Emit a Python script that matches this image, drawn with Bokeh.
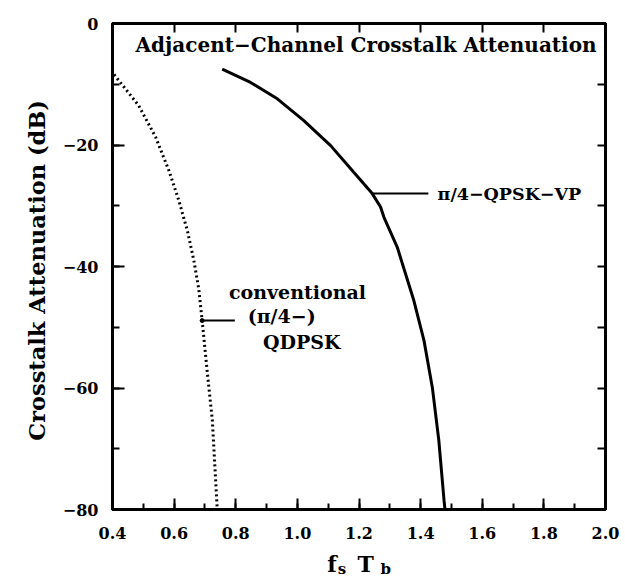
import math
from bokeh.plotting import figure
from bokeh.layouts import column
from bokeh.models import (Range1d, LinearAxis, SingleIntervalTicker, NumeralTickFormatter,
                          CustomJSTickFormatter, Label)
from bokeh.embed import file_html
from bokeh.resources import INLINE

# ---- data ----
conv_fs = [0.405, 0.485, 0.540, 0.583, 0.615, 0.643, 0.664, 0.680, 0.691, 0.707, 0.724, 0.738, 0.740]
conv_db = [-8.4, -13.5, -18.7, -24.2, -29.1, -34.1, -39.0, -43.7, -48.9, -57.1, -65.3, -78.2, -80.0]

vp_fs = [0.756, 0.848, 0.935, 1.021, 1.108, 1.183, 1.243, 1.270, 1.281, 1.324, 1.378, 1.411, 1.438, 1.459, 1.476, 1.479]
vp_db = [-7.5, -9.7, -12.4, -16.0, -20.1, -24.5, -28.0, -30.2, -31.9, -36.8, -45.6, -52.2, -59.9, -68.6, -78.5, -80.0]

title_text = "Adjacent\u2212Channel Crosstalk Attenuation"
vp_label = "\u03c0/4\u2212QPSK\u2212VP"
conv_label = ["conventional", "(\u03c0/4\u2212)", "QDPSK"]
y_label = "Crosstalk Attenuation  (dB)"
x_label_parts = ["f", "s", "T", "b"]

FONT = "DejaVu Serif"

p = figure(width=625, height=550, output_backend="svg", toolbar_location=None,
           x_range=Range1d(0.4, 2.0), y_range=Range1d(-80, 0),
           min_border_left=112, min_border_right=20, min_border_top=23, min_border_bottom=41,
           x_axis_location=None, y_axis_location=None)
p.grid.visible = False
p.outline_line_color = "black"
p.outline_line_width = 3
p.background_fill_color = "white"
p.border_fill_color = "white"

def style_axis(ax):
    ax.axis_line_width = 3
    ax.axis_line_color = "black"
    ax.major_tick_out = 0
    ax.minor_tick_out = 0
    ax.major_tick_line_width = 2
    ax.minor_tick_line_width = 2
    ax.major_label_text_font = FONT
    ax.major_label_text_font_style = "bold"
    ax.major_label_text_color = "black"
    ax.major_label_text_font_size = "16px"

bottom = LinearAxis(ticker=SingleIntervalTicker(interval=0.2, num_minor_ticks=2),
                    formatter=NumeralTickFormatter(format="0.0"))
style_axis(bottom)
bottom.major_tick_in = 11
bottom.minor_tick_in = 6
bottom.major_label_standoff = 17
p.add_layout(bottom, "below")

left = LinearAxis(ticker=SingleIntervalTicker(interval=20, num_minor_ticks=2))
style_axis(left)
left.major_tick_in = 12
left.minor_tick_in = 7
left.major_label_standoff = 14
left.axis_label = y_label
left.axis_label_text_font = FONT
left.axis_label_text_font_style = "bold"
left.axis_label_text_font_size = "22.5px"
left.axis_label_text_color = "black"
left.axis_label_standoff = 10
p.add_layout(left, "left")

blank = CustomJSTickFormatter(code="return ''")
top = LinearAxis(ticker=SingleIntervalTicker(interval=0.2, num_minor_ticks=0), formatter=blank)
style_axis(top)
top.major_tick_in = 9
top.major_label_standoff = 0
p.add_layout(top, "above")

right = LinearAxis(ticker=SingleIntervalTicker(interval=10, num_minor_ticks=0), formatter=blank)
style_axis(right)
right.major_tick_in = 8
right.major_label_standoff = 0
p.add_layout(right, "right")

# curves
p.line(conv_fs, conv_db, line_color="black", line_width=3, line_dash="2 3")
p.line(vp_fs, vp_db, line_color="black", line_width=3)

# leader lines anchored on data points
vi = 6
p.line([vp_fs[vi], 1.425], [vp_db[vi], vp_db[vi]], line_color="black", line_width=2)
ci = 8
p.line([conv_fs[ci], 0.797], [conv_db[ci], conv_db[ci]], line_color="black", line_width=2)
p.scatter([conv_fs[ci]], [conv_db[ci]], size=4, color="black")

def lab(fig, x, y, text, size, align="left", baseline="middle"):
    fig.add_layout(Label(x=x, y=y, text=text, text_font=FONT, text_font_style="bold",
                         text_font_size=size, text_align=align, text_baseline=baseline,
                         text_color="black"))

lab(p, 1.223, -3.6, title_text, "20px", align="center")
lab(p, 1.455, vp_db[vi], vp_label, "17.5px")
lab(p, 1.0005, -44.2, conv_label[0], "19px", align="center")
lab(p, 0.949, -48.2, conv_label[1], "19px", align="center")
lab(p, 1.014, -52.4, conv_label[2], "19px", align="center")

# x axis title f_s T_b in a strip below the chart (same horizontal frame as the chart)
q = figure(width=625, height=28, output_backend="svg", toolbar_location=None,
           x_range=Range1d(0.4, 2.0), y_range=Range1d(28, 0),
           min_border_left=112, min_border_right=20, min_border_top=0, min_border_bottom=0,
           x_axis_location=None, y_axis_location=None)
q.grid.visible = False
q.outline_line_color = None
q.background_fill_color = "white"
q.border_fill_color = "white"
lab(q, 1.097, 13, x_label_parts[0], "22px", baseline="alphabetic")
lab(q, 1.131, 18, x_label_parts[1], "15px", baseline="alphabetic")
lab(q, 1.195, 13, x_label_parts[2], "22px", baseline="alphabetic")
lab(q, 1.270, 18, x_label_parts[3], "15px", baseline="alphabetic")

layout = column(p, q, spacing=0)
open("out.html", "w").write(file_html(layout, INLINE))
